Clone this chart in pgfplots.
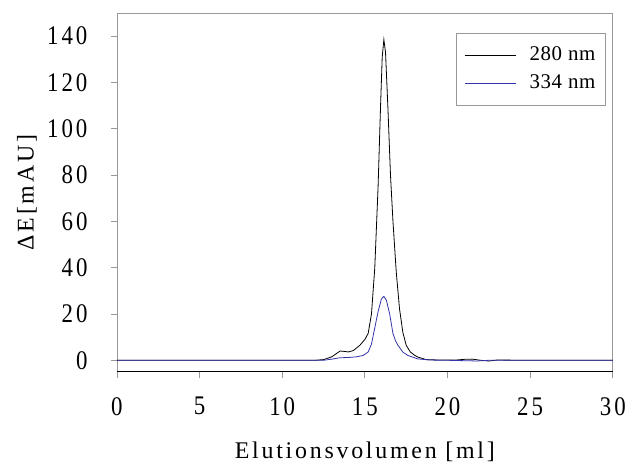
\documentclass[border=0pt]{standalone}
\usepackage{fontspec}
\setmainfont{Liberation Serif}[LetterSpace=11.5]
\newfontfamily\tickfont{Liberation Serif}[LetterSpace=11, FakeStretch=0.85]
\newfontfamily\legfont{Liberation Serif}[LetterSpace=3]
\usepackage{pgfplots}
\pgfplotsset{compat=1.18}
\definecolor{cblue}{RGB}{50,50,170}
\begin{document}
\begin{tikzpicture}
\begin{axis}[
  scale only axis, width=496bp, height=359bp,
  xmin=0, xmax=30, ymin=-5, ymax=150,
  xtick={0,5,...,30}, ytick={0,20,...,140},
  tick align=outside, xtick pos=bottom, ytick pos=left,
  major tick length=6bp,
  axis line style={gray!80, line width=0.9bp},
  tick style={gray!80, line width=0.9bp},
  /pgf/number format/assume math mode=true,
  ticklabel style={font=\tickfont\fontsize{27}{30}\selectfont},
  xticklabel style={yshift=-16bp},
  yticklabel style={xshift=-20bp},
  every axis x label/.style={at={(rel axis cs:0.5,0)}, anchor=base, yshift=-87bp,
     font=\fontsize{24}{28}\selectfont},
  every axis y label/.style={at={(rel axis cs:0,0.5)}, anchor=center, rotate=90, yshift=90bp,
     font=\fontsize{24}{28}\selectfont},
  xlabel={Elutionsvolumen [ml]},
  ylabel={ΔE[mAU]},
  clip=false,
  legend cell align=left,
  legend style={at={(rel axis cs:0.986,0.944)}, anchor=north east,
    draw=gray!80, line width=0.9bp, font=\legfont\fontsize{21}{24}\selectfont,
    inner xsep=8bp, inner ysep=11bp,
    nodes={inner sep=2bp, text height=14bp, text depth=4bp},
    row sep=6bp,
    /tikz/every odd column/.append style={column sep=11bp}},
  legend image code/.code={\draw[#1, line width=0.8bp] (0bp,0bp) -- (51bp,0bp);},
]
\addplot[black, line width=0.8bp] coordinates {
(0,0) (5,0) (10,0) (12,0) (12.5,0.3) (13.0,1.5) (13.3,3.0) (13.5,4.0) (13.8,3.8)
(14.0,3.6) (14.3,4.2) (14.7,6.5) (15.0,9) (15.2,11.6) (15.4,20) (15.6,40)
(15.8,75) (15.95,110) (16.05,131) (16.15,138.5) (16.25,133) (16.4,108) (16.55,80)
(16.7,60) (16.9,38) (17.1,22) (17.3,12) (17.5,6.5) (17.75,3.6) (18.0,2.2)
(18.2,1.4) (18.7,0.3) (19.5,0.1) (20.5,0.1) (21.0,0.4) (21.5,0.5) (22,0)
(22.5,-0.3) (23,0.1) (25,0) (30,0)
};
\addlegendentry{280 nm}
\addplot[cblue, line width=0.8bp] coordinates {
(0,0) (5,0) (10,0) (12.5,0) (13.0,0.5) (13.5,1.1) (14.0,1.2) (14.5,1.5)
(14.9,2.1) (15.2,3.6) (15.4,7) (15.6,14) (15.8,21) (16.0,26.5) (16.15,27.6)
(16.3,26) (16.5,20) (16.7,11.6) (16.85,8.5) (17.0,6.5) (17.3,3.5) (17.6,2.1)
(18.2,0.6) (19,0.1) (20,0) (21.8,-0.3) (22.5,0) (30,0)
};
\addlegendentry{334 nm}
\draw[black, line width=0.9bp] (rel axis cs:0,0) -- (rel axis cs:1,0);
\path (rel axis cs:0,0) ++(-117bp,-94bp);
\path (rel axis cs:1,1) ++(16bp,13bp);
\end{axis}
\end{tikzpicture}
\end{document}
